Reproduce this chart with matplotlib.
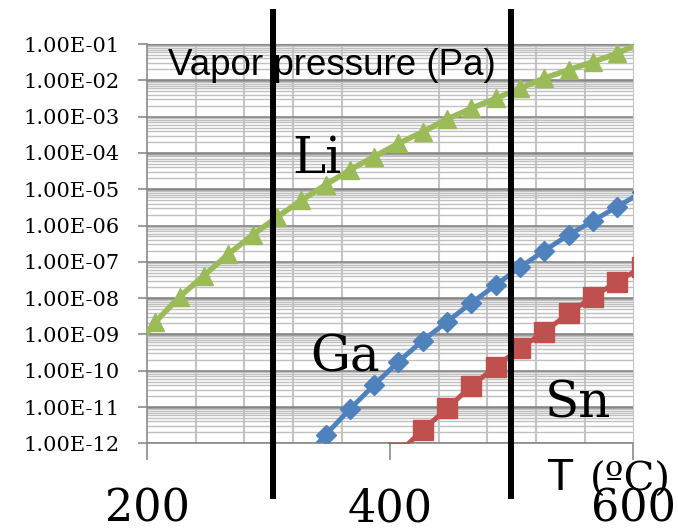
import numpy as np
import matplotlib
matplotlib.use("Agg")
import matplotlib.pyplot as plt
from matplotlib.ticker import FixedLocator, FuncFormatter, LogLocator, NullFormatter
import matplotlib.transforms as mtransforms

# ---- data (temperatures in K, converted to deg C) ----
temps_K = [460, 480, 500, 520, 540, 560, 580, 600, 620, 640, 660,
           680, 700, 720, 740, 760, 780, 800, 820, 840, 860, 880]
nan = np.nan
li_log = [-9.55, -8.66, -7.96, -7.38, -6.79, -6.26, -5.77, -5.31, -4.88, -4.47, -4.10,
          -3.74, -3.42, -3.07, -2.77, -2.50, -2.22, -1.94, -1.71, -1.49, -1.26, -0.95]
ga_log = [nan, nan, nan, nan, nan, nan, nan, -12.52, -11.77, -11.06, -10.39,
          -9.75, -9.17, -8.65, -8.13, -7.64, -7.15, -6.69, -6.26, -5.87, -5.48, -5.09]
sn_log = [nan, nan, nan, nan, nan, nan, nan, nan, nan, nan, nan,
          -12.27, -11.63, -11.04, -10.42, -9.89, -9.38, -8.93, -8.42, -7.96, -7.55, -7.15]
marker_lines = [303.8, 499.0]
x_ticks = [200, 400, 600]
y_decades = list(range(-12, 0))

temps_C = np.array(temps_K, dtype=float) - 273.15
li = 10.0 ** np.array(li_log)
ga = 10.0 ** np.array(ga_log)
sn = 10.0 ** np.array(sn_log)

W, H = 678, 532
fig = plt.figure(figsize=(W / 100, H / 100), dpi=100)
x0, x1, ytop, ybot = 147, 633.3, 44, 443.3
ax = fig.add_axes([x0 / W, (H - ybot) / H, (x1 - x0) / W, (ybot - ytop) / H])
ax.set_yscale("log")
ax.set_xlim(200, 600)
ax.set_ylim(1e-12, 1e-1)

# grid
ax.yaxis.set_major_locator(FixedLocator([10.0 ** d for d in y_decades]))
ax.yaxis.set_minor_locator(LogLocator(base=10, subs=np.arange(2, 10), numticks=50))
ax.yaxis.set_minor_formatter(NullFormatter())
ax.xaxis.set_major_locator(FixedLocator(x_ticks))
ax.xaxis.set_minor_locator(FixedLocator(np.arange(200, 601, 40)))
ax.grid(True, which="major", axis="y", color="#868686", lw=1.9, zorder=0)
ax.grid(True, which="minor", axis="y", color="#c0c0c0", lw=1.0, zorder=0)
ax.grid(True, which="minor", axis="x", color="#c4c4c4", lw=1.5, zorder=0)
ax.set_axisbelow(True)

def yfmt(v, pos):
    e = int(round(np.log10(v)))
    return "1.00E-%02d" % (-e)

ax.yaxis.set_major_formatter(FuncFormatter(yfmt))
ax.tick_params(axis="y", which="major", length=6.5, width=1.2, color="#8a8a8a",
               pad=13, labelsize=15, labelfontfamily="DejaVu Serif")
ax.tick_params(axis="x", which="major", length=12, width=1.2, color="#8a8a8a",
               pad=20, labelsize=32, labelfontfamily="DejaVu Serif")
ax.tick_params(which="minor", length=0)
for s in ["left", "bottom"]:
    ax.spines[s].set_color("#8a8a8a")
    ax.spines[s].set_linewidth(1.2)
ax.spines["right"].set_color("#c4c4c4")
ax.spines["top"].set_color("#8a8a8a")

# series
ax.plot(temps_C, li, color="#9BBB59", lw=4.0, marker="^", ms=13.5, zorder=3)
ax.plot(temps_C, ga, color="#4F81BD", lw=3.5, marker="D", ms=10.5, zorder=3)
ax.plot(temps_C, sn, color="#C0504D", lw=3.5, marker="s", ms=14, zorder=3)

# vertical black lines
trans = mtransforms.blended_transform_factory(ax.transData, ax.transAxes)
for xv in marker_lines:
    ax.plot([xv, xv], [-0.132, 1.080], transform=trans, color="black", lw=4.3,
            clip_on=False, zorder=5)

# texts
fig.text(168 / W, (H - 75) / H, "Vapor pressure (Pa)", family="Liberation Sans",
         fontsize=26.5, va="baseline", ha="left")
fig.text(292 / W, (H - 173) / H, "Li", family="DejaVu Serif", fontsize=36,
         va="baseline", ha="left")
fig.text(310 / W, (H - 372) / H, "Ga", family="DejaVu Serif", fontsize=36,
         va="baseline", ha="left")
fig.text(545 / W, (H - 418) / H, "Sn", family="DejaVu Serif", fontsize=36,
         va="baseline", ha="left")
fig.text(547 / W, (H - 490) / H, "T", family="Liberation Sans", fontsize=32,
         va="baseline", ha="left")
fig.text(590 / W, (H - 491) / H, "(ºC)", family="DejaVu Serif", fontsize=29,
         va="baseline", ha="left")

fig.savefig("out.png", dpi=100)
